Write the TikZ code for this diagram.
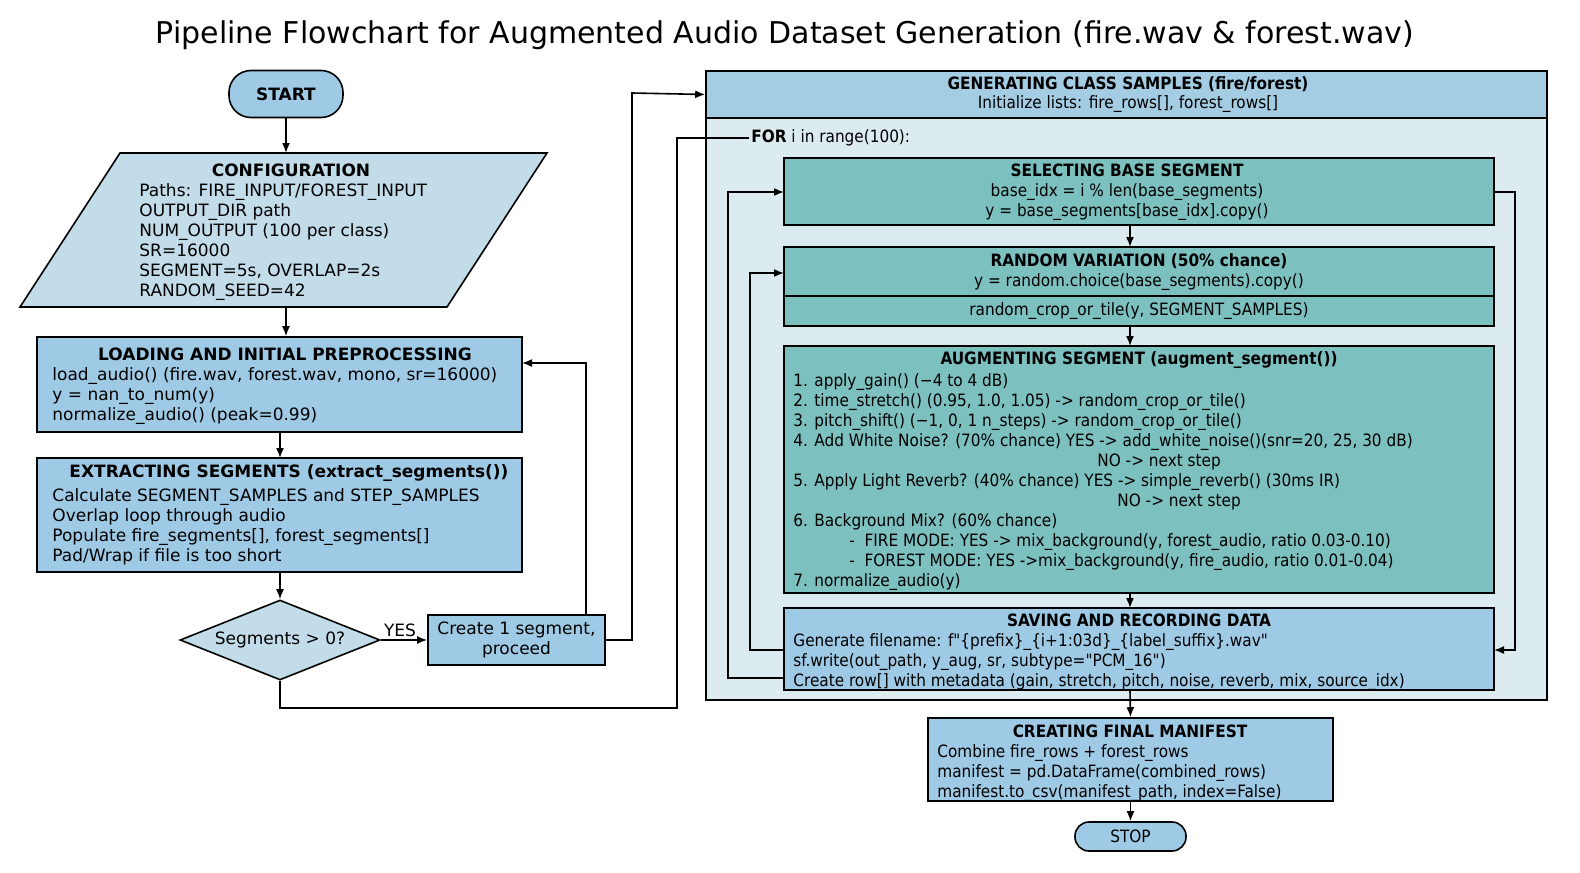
\documentclass[tikz,border=0pt]{standalone}
\usepackage{fontspec}
\setmainfont{DejaVu Sans}
\newfontfamily\cond{DejaVu Sans Condensed}
\usetikzlibrary{shapes.geometric,arrows.meta,positioning}
\definecolor{boxblue}{HTML}{9ECAE5}
\definecolor{cfgblue}{HTML}{C3DCEA}
\definecolor{teal}{HTML}{7CC0C0}
\definecolor{panel}{HTML}{DCEBF0}
\definecolor{headblue}{HTML}{A4CDE3}
\tikzset{
  box/.style={draw, fill=boxblue, thick, inner sep=0},
  tealbox/.style={draw, fill=teal, thick, inner sep=0},
  term/.style={draw, fill=boxblue, thick, rounded corners=11pt, inner sep=0},
  ttl/.style={font=\fontsize{8.5}{10}\selectfont\bfseries, inner sep=0},
  body/.style={font=\fontsize{8.5}{10}\selectfont, align=left, inner sep=0, anchor=north west},
  arr/.style={-{Latex[length=5pt,width=4pt]}, thick},
  line/.style={thick}
}
\begin{document}
\begin{tikzpicture}[x=0.5pt,y=-0.5pt]
\useasboundingbox (0,0) rectangle (1580,873);
\node [font=\fontsize{15}{18}\selectfont] (title) at (785,35) {Pipeline Flowchart for Augmented Audio Dataset Generation (fire.wav \& forest.wav)};

% left column
\node [term, minimum width=57pt, minimum height=23.5pt, font=\fontsize{8.5}{10}\selectfont\bfseries] (start) at (286,94) {START};
\draw [thick, fill=cfgblue] (120,153) -- (547,153) -- (447,307) -- (20,307) -- cycle;
\coordinate (cfgtop) at (286,153);
\coordinate (cfgbot) at (286,307);
\node [ttl] (cfgttl) at (291,170) {CONFIGURATION};
\node [body] (cfgbody) at (139,183) {Paths: FIRE\_INPUT/FOREST\_INPUT\\OUTPUT\_DIR path\\NUM\_OUTPUT (100 per class)\\SR=16000\\SEGMENT=5s, OVERLAP=2s\\RANDOM\_SEED=42};

\node [box, minimum width=242.5pt, minimum height=47.5pt] (load) at (279.5,384.5) {};
\node [ttl] at (285,354) {LOADING AND INITIAL PREPROCESSING};
\node [body] at (52,367) {load\_audio() (fire.wav, forest.wav, mono, sr=16000)\\y = nan\_to\_num(y)\\normalize\_audio() (peak=0.99)};

\node [box, minimum width=242.5pt, minimum height=57pt] (extract) at (279.5,515) {};
\node [ttl] at (289,473) {EXTRACTING SEGMENTS (extract\_segments())};
\node [body] at (52,488) {Calculate SEGMENT\_SAMPLES and STEP\_SAMPLES\\Overlap loop through audio\\Populate fire\_segments[], forest\_segments[]\\Pad/Wrap if file is too short};

\node [diamond, draw, thick, fill=cfgblue, minimum width=100pt, minimum height=40pt, aspect=2.5, inner sep=0, font=\fontsize{8.5}{10}\selectfont] (check) at (280,640) {Segments > 0?};
\node [box, minimum width=88.5pt, minimum height=25pt, align=center, font=\fontsize{8.5}{10}\selectfont] (create) at (516.5,640) {Create 1 segment,\\proceed};

\draw [arr] (start) -- (cfgtop);
\draw [arr] (cfgbot) -- (cfgbot |- load.north);
\draw [arr] (load.south -| 280,0) -- (280,458);
\draw [arr] (extract.south -| 280,0) -- (check.north);
\draw [arr] (check) -- node [above, font=\fontsize{8.5}{10}\selectfont, xshift=-2pt, inner sep=1pt] {YES} (create);
\draw [arr] (586,615) -- (586,363) -- (522,363);

% right panel
\node [draw, thick, fill=panel, minimum width=420.5pt, minimum height=314.5pt, inner sep=0] (panel) at (1126.5,385.5) {};
\node [draw, thick, fill=headblue, minimum width=420.5pt, minimum height=23.5pt, inner sep=0] (head) at (1126.5,94.5) {};
\node [ttl, font=\fontsize{8.5}{10}\selectfont\cond\bfseries] at (1128,84) {GENERATING CLASS SAMPLES (fire/forest)};
\node [font=\fontsize{8.5}{10}\selectfont\cond, inner sep=0] at (1128,104) {Initialize lists: fire\_rows[], forest\_rows[]};
\node [font=\fontsize{8.5}{10}\selectfont\cond, inner sep=1pt, anchor=west] (for) at (749,138) {\textbf{FOR} i in range(100):};

\draw [arr] (create.east) -- (632,640) -- (632,93) -- (head.west);
\draw [line] (check.south) -- (280,708) -- (677,708) -- (677,138) -- (for.west);

\begin{scope}[font=\fontsize{8.5}{10}\selectfont\cond]
\node [tealbox, minimum width=355pt, minimum height=33.5pt] (select) at (1139,191.5) {};
\node [inner sep=0, align=center] at (1127,192) {\textbf{SELECTING BASE SEGMENT}\\base\_idx = i \% len(base\_segments)\\y = base\_segments[base\_idx].copy()};

\node [tealbox, minimum width=355pt, minimum height=24.5pt] (random) at (1139,271.5) {};
\node [inner sep=0, align=center] at (1139,272) {\textbf{RANDOM VARIATION (50\% chance)}\\y = random.choice(base\_segments).copy()};
\node [tealbox, minimum width=355pt, minimum height=15pt] (crop) at (1139,311) {random\_crop\_or\_tile(y, SEGMENT\_SAMPLES)};

\node [tealbox, minimum width=355pt, minimum height=123.5pt] (augment) at (1139,469.5) {};
\node [inner sep=0, font=\fontsize{8.5}{10}\selectfont\cond\bfseries] at (1139,360) {AUGMENTING SEGMENT (augment\_segment())};
\node [body, font=\fontsize{8.5}{10}\selectfont\cond] at (793,373) {1. apply\_gain() (−4 to 4 dB)\\
2. time\_stretch() (0.95, 1.0, 1.05) -> random\_crop\_or\_tile()\\
3. pitch\_shift() (−1, 0, 1 n\_steps) -> random\_crop\_or\_tile()\\
4. Add White Noise? (70\% chance) YES -> add\_white\_noise()(snr=20, 25, 30 dB)\\
\hspace*{152pt}NO -> next step\\
5. Apply Light Reverb? (40\% chance) YES -> simple\_reverb() (30ms IR)\\
\hspace*{162pt}NO -> next step\\
6. Background Mix? (60\% chance)\\
\hspace*{28pt}-\ \ FIRE MODE: YES -> mix\_background(y, forest\_audio, ratio 0.03-0.10)\\
\hspace*{28pt}-\ \ FOREST MODE: YES ->mix\_background(y, fire\_audio, ratio 0.01-0.04)\\
7. normalize\_audio(y)};

\node [box, minimum width=355pt, minimum height=41pt] (saving) at (1139,649) {};
\node [inner sep=0, font=\fontsize{8.5}{10}\selectfont\cond\bfseries] at (1139,620) {SAVING AND RECORDING DATA};
\node [body, font=\fontsize{8.5}{10}\selectfont\cond] at (793,633) {Generate filename: f"\{prefix\}\_\{i+1:03d\}\_\{label\_suffix\}.wav"\\sf.write(out\_path, y\_aug, sr, subtype="PCM\_16")\\Create row[] with metadata (gain, stretch, pitch, noise, reverb, mix, source\_idx)};

\node [box, minimum width=202.5pt, minimum height=41.5pt] (manifest) at (1130.5,759.5) {};
\node [inner sep=0, font=\fontsize{8.5}{10}\selectfont\cond\bfseries] at (1130,731) {CREATING FINAL MANIFEST};
\node [body, font=\fontsize{8.5}{10}\selectfont\cond] at (937,744) {Combine fire\_rows + forest\_rows\\manifest = pd.DataFrame(combined\_rows)\\manifest.to\_csv(manifest\_path, index=False)};

\node [term, rounded corners=7pt, minimum width=55.5pt, minimum height=14.5pt] (stop) at (1130.5,836.5) {STOP};
\end{scope}

\draw [arr] (select.south -| 1130,0) -- (1130,247);
\draw [arr] (crop.south -| 1130,0) -- (1130,346);
\draw [arr] (augment.south -| 1130,0) -- (1130,608);
\draw [arr] (saving.south -| 1130,0) -- (manifest.north);
\draw [arr] (manifest) -- (stop);
\draw [arr] (1494,192) -- (1515,192) -- (1515,650) -- (1494,650);
\draw [arr] (784,678) -- (728,678) -- (728,192) -- (784,192);
\draw [arr] (784,650) -- (750,650) -- (750,273) -- (784,273);
\end{tikzpicture}
\end{document}
